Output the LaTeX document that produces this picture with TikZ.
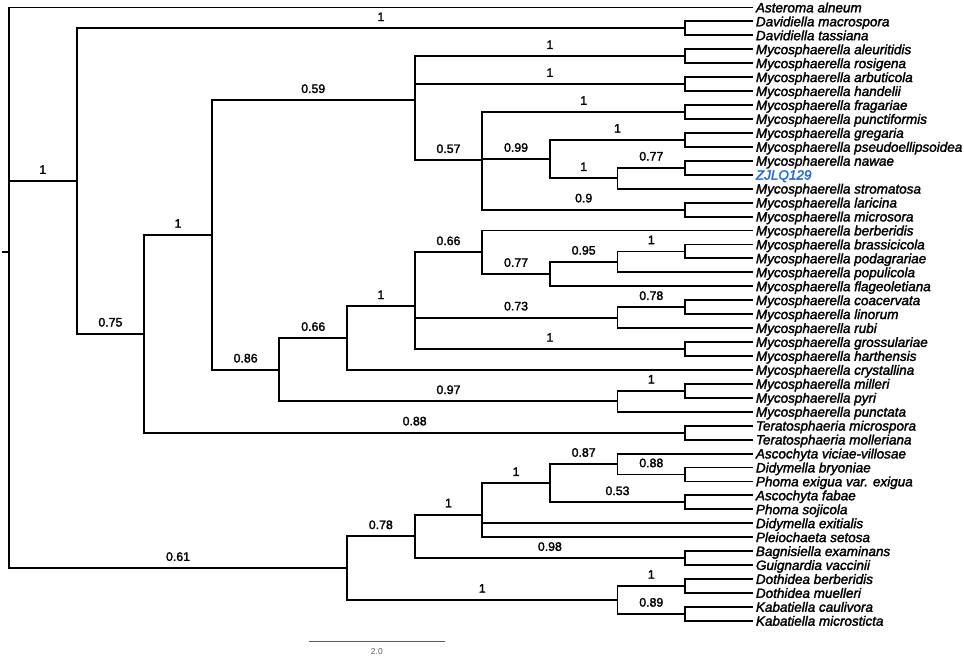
\documentclass[tikz,border=0pt]{standalone}
\usepackage{fontspec}
\setmainfont{Liberation Sans}
\newfontfamily\taxfont{Liberation Sans}[RawFeature={embolden=2}]
\definecolor{zjblue}{RGB}{28,105,235}
\definecolor{barcol}{RGB}{90,90,90}

\begin{document}
\begin{tikzpicture}[x=1pt, y=-1pt, line width=1.9pt,
    taxon/.style={anchor=west, inner xsep=2.3pt, inner ysep=0pt,
        font=\fontsize{13.5}{14}\selectfont\taxfont\itshape,
        text height=9.7pt, text depth=0pt},
    prob/.style={anchor=base, yshift=7.3pt, inner sep=0pt,
        font=\fontsize{12.3}{13}\selectfont\taxfont},
    scalebar/.style={barcol, line width=1.3pt}
]
    \useasboundingbox (0,0) rectangle (964,656);

    % taxa
    \node [taxon] (aal) at (752.7,7.5) {Asteroma alneum};
    \node [taxon] (dmac) at (752.7,21.44) {Davidiella macrospora};
    \node [taxon] (dtas) at (752.7,35.38) {Davidiella tassiana};
    \node [taxon] (male) at (752.7,49.32) {Mycosphaerella aleuritidis};
    \node [taxon] (mros) at (752.7,63.26) {Mycosphaerella rosigena};
    \node [taxon] (marb) at (752.7,77.2) {Mycosphaerella arbuticola};
    \node [taxon] (mhan) at (752.7,91.14) {Mycosphaerella handelii};
    \node [taxon] (mfra) at (752.7,105.08) {Mycosphaerella fragariae};
    \node [taxon] (mpun) at (752.7,119.02) {Mycosphaerella punctiformis};
    \node [taxon] (mgre) at (752.7,132.96) {Mycosphaerella gregaria};
    \node [taxon] (mpse) at (752.7,146.9) {Mycosphaerella pseudoellipsoidea};
    \node [taxon] (mnaw) at (752.7,160.84) {Mycosphaerella nawae};
    \node [taxon, text=zjblue] (zjlq) at (752.7,174.78) {ZJLQ129};
    \node [taxon] (mstr) at (752.7,188.72) {Mycosphaerella stromatosa};
    \node [taxon] (mlar) at (752.7,202.66) {Mycosphaerella laricina};
    \node [taxon] (mmic) at (752.7,216.6) {Mycosphaerella microsora};
    \node [taxon] (mber) at (752.7,230.54) {Mycosphaerella berberidis};
    \node [taxon] (mbra) at (752.7,244.48) {Mycosphaerella brassicicola};
    \node [taxon] (mpod) at (752.7,258.42) {Mycosphaerella podagrariae};
    \node [taxon] (mpop) at (752.7,272.36) {Mycosphaerella populicola};
    \node [taxon] (mfla) at (752.7,286.3) {Mycosphaerella flageoletiana};
    \node [taxon] (mcoa) at (752.7,300.24) {Mycosphaerella coacervata};
    \node [taxon] (mlin) at (752.7,314.18) {Mycosphaerella linorum};
    \node [taxon] (mrub) at (752.7,328.12) {Mycosphaerella rubi};
    \node [taxon] (mgro) at (752.7,342.06) {Mycosphaerella grossulariae};
    \node [taxon] (mhar) at (752.7,356) {Mycosphaerella harthensis};
    \node [taxon] (mcry) at (752.7,369.94) {Mycosphaerella crystallina};
    \node [taxon] (mmil) at (752.7,383.88) {Mycosphaerella milleri};
    \node [taxon] (mpyr) at (752.7,397.82) {Mycosphaerella pyri};
    \node [taxon] (mpct) at (752.7,411.76) {Mycosphaerella punctata};
    \node [taxon] (tmic) at (752.7,425.7) {Teratosphaeria microspora};
    \node [taxon] (tmol) at (752.7,439.64) {Teratosphaeria molleriana};
    \node [taxon] (avic) at (752.7,453.58) {Ascochyta viciae-villosae};
    \node [taxon] (dbry) at (752.7,467.52) {Didymella bryoniae};
    \node [taxon] (pexi) at (752.7,481.46) {Phoma exigua var. exigua};
    \node [taxon] (afab) at (752.7,495.4) {Ascochyta fabae};
    \node [taxon] (psoj) at (752.7,509.34) {Phoma sojicola};
    \node [taxon] (dexi) at (752.7,523.28) {Didymella exitialis};
    \node [taxon] (pset) at (752.7,537.22) {Pleiochaeta setosa};
    \node [taxon] (bexa) at (752.7,551.16) {Bagnisiella examinans};
    \node [taxon] (gvac) at (752.7,565.1) {Guignardia vaccinii};
    \node [taxon] (dber) at (752.7,579.04) {Dothidea berberidis};
    \node [taxon] (dmue) at (752.7,592.98) {Dothidea muelleri};
    \node [taxon] (kcau) at (752.7,606.92) {Kabatiella caulivora};
    \node [taxon] (kmic) at (752.7,620.86) {Kabatiella microsticta};

    % internal nodes
    \coordinate (stem) at (2,252.25);
    \coordinate (root) at (9,252.25);
    \coordinate (main) at (76.61,181.1);
    \coordinate (myco) at (144.22,333.8);
    \coordinate (nC) at (211.83,234.98);
    \coordinate (nE) at (279.44,369.72);
    \coordinate (nI) at (347.05,338.14);
    \coordinate (nU) at (347.05,568.15);
    \coordinate (nD) at (414.66,100.24);
    \coordinate (nK) at (414.66,306.34);
    \coordinate (nV) at (414.66,536.35);
    \coordinate (nF) at (482.27,160.26);
    \coordinate (nL) at (482.27,252.32);
    \coordinate (nX) at (482.27,514.57);
    \coordinate (nG) at (549.88,159.1);
    \coordinate (nM) at (549.88,274.1);
    \coordinate (nZ) at (549.88,483.2);
    \coordinate (nH) at (617.49,178.27);
    \coordinate (nO) at (617.49,261.9);
    \coordinate (nN) at (617.49,317.67);
    \coordinate (nJ) at (617.49,401.3);
    \coordinate (nAA) at (617.49,464.04);
    \coordinate (nW) at (617.49,599.95);
    \coordinate (dav) at (685.1,28.41);
    \coordinate (aleu) at (685.1,56.29);
    \coordinate (arbu) at (685.1,84.17);
    \coordinate (frag) at (685.1,112.05);
    \coordinate (greg) at (685.1,139.93);
    \coordinate (nawa) at (685.1,167.81);
    \coordinate (lari) at (685.1,209.63);
    \coordinate (bras) at (685.1,251.45);
    \coordinate (coac) at (685.1,307.21);
    \coordinate (gros) at (685.1,349.03);
    \coordinate (mill) at (685.1,390.85);
    \coordinate (tera) at (685.1,432.67);
    \coordinate (bryo) at (685.1,474.49);
    \coordinate (faba) at (685.1,502.37);
    \coordinate (bagn) at (685.1,558.13);
    \coordinate (doth) at (685.1,586.01);
    \coordinate (kaba) at (685.1,613.89);

    % branches
    \draw (stem) -- (root);
    \draw (root) |- (aal);
    \draw (root) |- node [prob, pos=.75] {1} (main);
    \draw (root) |- node [prob, pos=.75] {0.61} (nU);
    \draw (main) |- node [prob, pos=.75] {1} (dav);
    \draw (main) |- node [prob, pos=.75] {0.75} (myco);
    \draw (dav) |- (dmac);
    \draw (dav) |- (dtas);
    \draw (myco) |- node [prob, pos=.75] {1} (nC);
    \draw (myco) |- node [prob, pos=.75] {0.88} (tera);
    \draw (tera) |- (tmic);
    \draw (tera) |- (tmol);
    \draw (nC) |- node [prob, pos=.75] {0.59} (nD);
    \draw (nC) |- node [prob, pos=.75] {0.86} (nE);

    \draw (nD) |- node [prob, pos=.75] {1} (aleu);
    \draw (aleu) |- (male);
    \draw (aleu) |- (mros);
    \draw (nD) |- node [prob, pos=.75] {1} (arbu);
    \draw (arbu) |- (marb);
    \draw (arbu) |- (mhan);
    \draw (nD) |- node [prob, pos=.75] {0.57} (nF);
    \draw (nF) |- node [prob, pos=.75] {1} (frag);
    \draw (frag) |- (mfra);
    \draw (frag) |- (mpun);
    \draw (nF) |- node [prob, pos=.75] {0.99} (nG);
    \draw (nG) |- node [prob, pos=.75] {1} (greg);
    \draw (greg) |- (mgre);
    \draw (greg) |- (mpse);
    \draw (nG) |- node [prob, pos=.75] {1} (nH);
    \draw (nH) |- node [prob, pos=.75] {0.77} (nawa);
    \draw (nawa) |- (mnaw);
    \draw (nawa) |- (zjlq);
    \draw (nH) |- (mstr);
    \draw (nF) |- node [prob, pos=.75] {0.9} (lari);
    \draw (lari) |- (mlar);
    \draw (lari) |- (mmic);

    \draw (nE) |- node [prob, pos=.75] {0.66} (nI);
    \draw (nE) |- node [prob, pos=.75] {0.97} (nJ);
    \draw (nI) |- node [prob, pos=.75] {1} (nK);
    \draw (nI) |- (mcry);
    \draw (nK) |- node [prob, pos=.75] {0.66} (nL);
    \draw (nL) |- (mber);
    \draw (nL) |- node [prob, pos=.75] {0.77} (nM);
    \draw (nM) |- node [prob, pos=.75] {0.95} (nO);
    \draw (nO) |- node [prob, pos=.75] {1} (bras);
    \draw (bras) |- (mbra);
    \draw (bras) |- (mpod);
    \draw (nO) |- (mpop);
    \draw (nM) |- (mfla);
    \draw (nK) |- node [prob, pos=.75] {0.73} (nN);
    \draw (nN) |- node [prob, pos=.75] {0.78} (coac);
    \draw (coac) |- (mcoa);
    \draw (coac) |- (mlin);
    \draw (nN) |- (mrub);
    \draw (nK) |- node [prob, pos=.75] {1} (gros);
    \draw (gros) |- (mgro);
    \draw (gros) |- (mhar);
    \draw (nJ) |- node [prob, pos=.75] {1} (mill);
    \draw (mill) |- (mmil);
    \draw (mill) |- (mpyr);
    \draw (nJ) |- (mpct);

    \draw (nU) |- node [prob, pos=.75] {0.78} (nV);
    \draw (nU) |- node [prob, pos=.75] {1} (nW);
    \draw (nV) |- node [prob, pos=.75] {1} (nX);
    \draw (nV) |- node [prob, pos=.75] {0.98} (bagn);
    \draw (bagn) |- (bexa);
    \draw (bagn) |- (gvac);
    \draw (nX) |- node [prob, pos=.75] {1} (nZ);
    \draw (nX) |- (dexi);
    \draw (nX) |- (pset);
    \draw (nZ) |- node [prob, pos=.75] {0.87} (nAA);
    \draw (nAA) |- (avic);
    \draw (nAA) |- node [prob, pos=.75] {0.88} (bryo);
    \draw (bryo) |- (dbry);
    \draw (bryo) |- (pexi);
    \draw (nZ) |- node [prob, pos=.75] {0.53} (faba);
    \draw (faba) |- (afab);
    \draw (faba) |- (psoj);
    \draw (nW) |- node [prob, pos=.75] {1} (doth);
    \draw (doth) |- (dber);
    \draw (doth) |- (dmue);
    \draw (nW) |- node [prob, pos=.75] {0.89} (kaba);
    \draw (kaba) |- (kcau);
    \draw (kaba) |- (kmic);

    % scale bar
    \coordinate (bar0) at (309.3,641.7);
    \coordinate (bar1) at (444.5,641.7);
    \draw [scalebar] (bar0) -- node [anchor=base, yshift=-12.3pt, inner sep=0pt,
        font=\fontsize{8.5}{9}\selectfont] {2.0} (bar1);
\end{tikzpicture}
\end{document}
